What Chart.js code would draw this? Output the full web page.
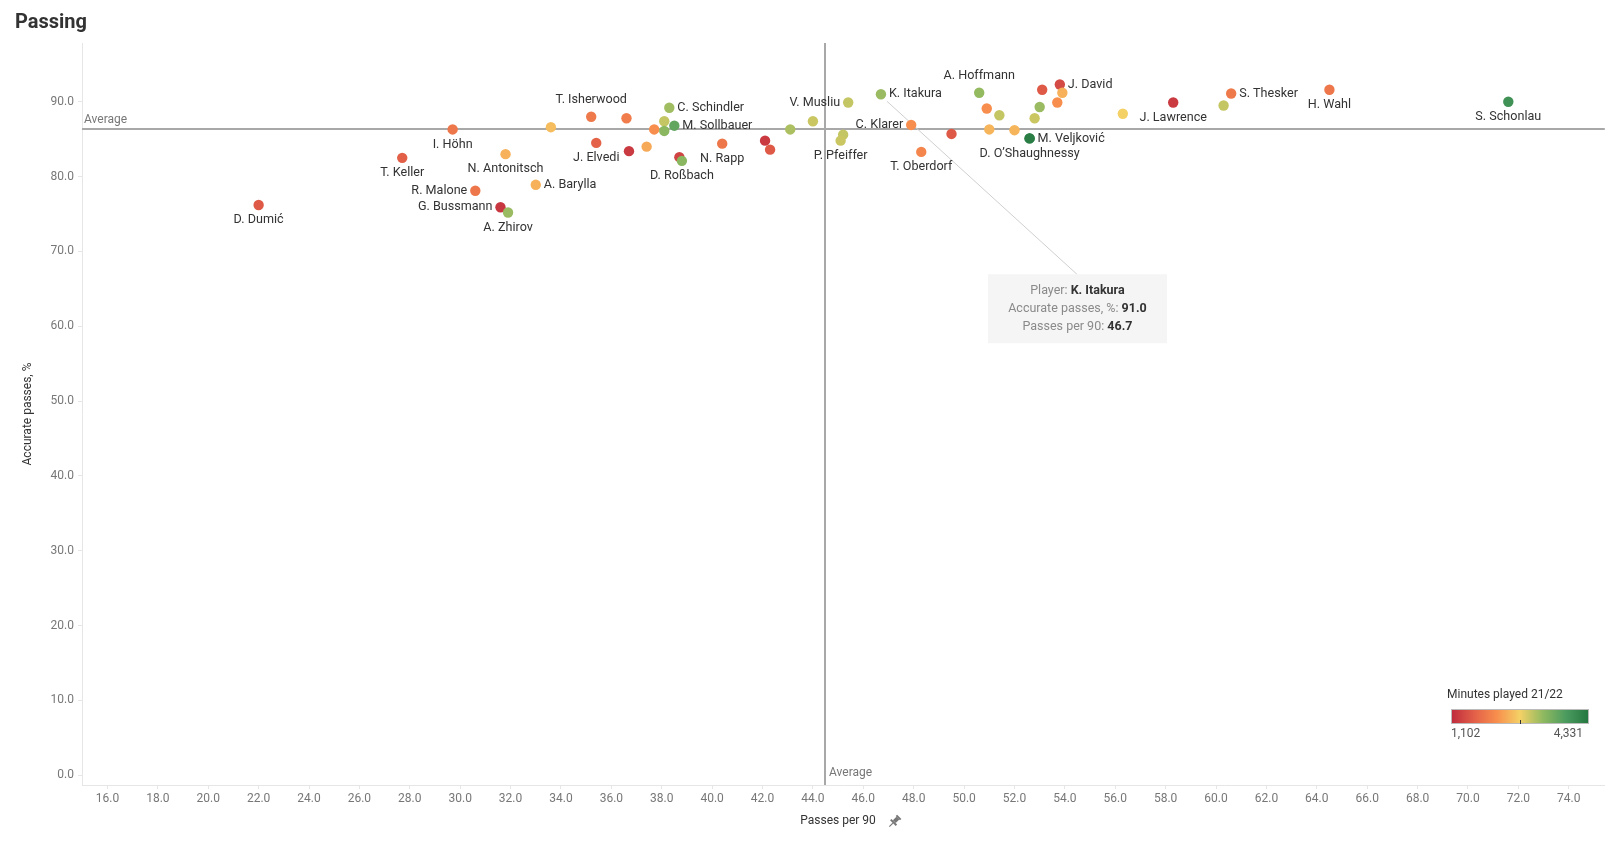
<!DOCTYPE html>
<html><head><meta charset="utf-8">
<script src="https://cdn.jsdelivr.net/npm/chart.js@4.4.1/dist/chart.umd.min.js"></script>
<style>html,body{margin:0;padding:0;background:#fff;} #wrap{width:1610px;height:849px;position:relative}</style>
</head><body><div id="wrap"><canvas id="c" width="1610" height="849"></canvas></div>
<script>
// ---------------- DATA ----------------
const players = [
  "D. Dumić","T. Keller","I. Höhn","N. Antonitsch","R. Malone","G. Bussmann","A. Zhirov","A. Barylla",
  "","T. Isherwood","","J. Elvedi","","","","","C. Schindler","","M. Sollbauer","","D. Roßbach","N. Rapp",
  "","","","","V. Musliu","","P. Pfeiffer","K. Itakura","C. Klarer","T. Oberdorf","","A. Hoffmann",
  "","","","","M. Veljković","D. O’Shaughnessy","","","","J. David","","","","J. Lawrence","","S. Thesker",
  "H. Wahl","S. Schonlau"
];
const passesPer90 = [
  22.0,27.7,29.7,31.8,30.6,31.6,31.9,33.0,
  33.6,35.2,36.6,35.4,36.7,37.4,37.7,38.1,38.3,38.1,38.5,38.7,38.8,40.4,
  42.1,42.3,43.1,44.0,45.4,45.2,45.1,46.7,47.9,48.3,49.5,50.6,
  50.9,51.4,51.0,52.0,52.6,52.6,52.8,53.0,53.1,53.8,53.9,53.7,56.3,58.3,60.3,60.6,
  64.5,71.6
];
const accuratePct = [
  76.2,82.5,86.3,83.0,78.1,75.9,75.2,78.9,
  86.6,88.0,87.8,84.5,83.4,84.0,86.3,87.4,89.2,86.1,86.8,82.6,82.1,84.4,
  84.8,83.6,86.3,87.4,89.9,85.6,84.8,91.0,86.9,83.3,85.7,91.2,
  89.1,88.2,86.3,86.2,85.1,85.1,87.8,89.3,91.6,92.3,91.2,89.9,88.4,89.9,89.5,91.1,
  91.6,90.0
];
const minutesPlayed = [
  1586,1651,1909,2458,1909,1231,3201,2458,
  2555,1942,1974,1683,1263,2394,2168,2975,3169,3298,3621,1360,3298,1909,
  1263,1586,3104,2943,2975,2975,2943,3201,2168,2071,1586,3233,
  2168,2975,2490,2490,4234,4234,2943,3201,1586,1425,2458,2168,2717,1263,2975,1942,
  1909,3944
];
const labelSide = [
  "b","b","b","b","l","l","b","r",
  "","a","","b","","","","","r","","r","","b","b",
  "","","","","l","","b","r","l","b","","a",
  "","","","","r","b","","","","r","","","","b","","r",
  "b","b"
];
const xTickValues = [16,18,20,22,24,26,28,30,32,34,36,38,40,42,44,46,48,50,52,54,56,58,60,62,64,66,68,70,72,74];
const yTickValues = [0,10,20,30,40,50,60,70,80,90];
const avgPasses = 44.47;
const avgAccuracy = 86.3;
const minutesRange = [1102, 4331];
const paletteStops = ["#be2a3e","#e25f48","#f88f4d","#f4d166","#90b960","#4b9b5f","#22763f"];
const highlighted = "K. Itakura";

// ---------------- HELPERS ----------------
function hex2rgb(h){return [parseInt(h.substr(1,2),16),parseInt(h.substr(3,2),16),parseInt(h.substr(5,2),16)];}
function colorFor(m){
  let t = (m - minutesRange[0]) / (minutesRange[1] - minutesRange[0]);
  t = Math.max(0, Math.min(1, t));
  const n = paletteStops.length - 1;
  const i = Math.min(n - 1, Math.floor(t * n));
  const f = t * n - i;
  const a = hex2rgb(paletteStops[i]), b = hex2rgb(paletteStops[i + 1]);
  const c = a.map((v, k) => Math.round(v + (b[k] - v) * f));
  return `rgb(${c[0]},${c[1]},${c[2]})`;
}
const points = passesPer90.map((x, i) => ({x: x, y: accuratePct[i]}));
const pointColors = minutesPlayed.map(colorFor);
const FONT = "Roboto, 'Open Sans', sans-serif";

const overlay = {
  id: 'overlay',
  beforeDatasetsDraw(chart){
    const ctx = chart.ctx, xs = chart.scales.x, ys = chart.scales.y, ca = chart.chartArea;
    ctx.save();
    ctx.strokeStyle = '#a8a8a8'; ctx.lineWidth = 2;
    const ay = Math.round(ys.getPixelForValue(avgAccuracy));
    const ax = Math.round(xs.getPixelForValue(avgPasses));
    ctx.beginPath(); ctx.moveTo(ca.left, ay); ctx.lineTo(ca.right, ay); ctx.stroke();
    ctx.beginPath(); ctx.moveTo(ax, ca.top); ctx.lineTo(ax, ca.bottom); ctx.stroke();
    ctx.fillStyle = '#777'; ctx.font = `12px ${FONT}`; ctx.textBaseline = 'middle'; ctx.textAlign = 'left';
    ctx.fillText('Average', ca.left + 2, ay - 9);
    ctx.fillText('Average', ax + 4, ca.bottom - 12);
    // tooltip leader line
    const idx = players.indexOf(highlighted);
    const px = xs.getPixelForValue(passesPer90[idx]), py = ys.getPixelForValue(accuratePct[idx]);
    ctx.strokeStyle = '#cfcfcf'; ctx.lineWidth = 1;
    ctx.beginPath(); ctx.moveTo(px + 6, py + 7); ctx.lineTo(px + 196, py + 180); ctx.stroke();
    ctx.restore();
  },
  afterDraw(chart){
    const ctx = chart.ctx, xs = chart.scales.x, ys = chart.scales.y, ca = chart.chartArea;
    ctx.save();
    // title
    ctx.fillStyle = '#333'; ctx.font = `bold 20px ${FONT}`; ctx.textBaseline = 'alphabetic'; ctx.textAlign = 'left';
    ctx.fillText('Passing', 15, 28);
    // point labels
    ctx.font = `12.6px ${FONT}`; ctx.fillStyle = '#333'; ctx.textBaseline = 'middle';
    players.forEach((name, i) => {
      if (!name) return;
      const px = xs.getPixelForValue(passesPer90[i]), py = ys.getPixelForValue(accuratePct[i]);
      const s = labelSide[i];
      if (s === 'b') { ctx.textAlign = 'center'; ctx.fillText(name, px, py + 15); }
      else if (s === 'a') { ctx.textAlign = 'center'; ctx.fillText(name, px, py - 17); }
      else if (s === 'r') { ctx.textAlign = 'left'; ctx.fillText(name, px + 8, py); }
      else if (s === 'l') { ctx.textAlign = 'right'; ctx.fillText(name, px - 8, py); }
    });
    // axis titles
    ctx.fillStyle = '#333'; ctx.font = `12px ${FONT}`; ctx.textAlign = 'center';
    ctx.fillText('Passes per 90', 838, 821);
    // pin icon
    ctx.save(); ctx.translate(895, 821); ctx.rotate(Math.PI / 4); ctx.fillStyle = '#777'; ctx.strokeStyle = '#777';
    ctx.fillRect(-3, -6, 6, 2); ctx.fillRect(-2, -4, 4, 5); ctx.fillRect(-4, 1, 8, 2);
    ctx.lineWidth = 1.2; ctx.beginPath(); ctx.moveTo(0, 3); ctx.lineTo(0, 8); ctx.stroke(); ctx.restore();
    ctx.save(); ctx.translate(28, (ca.top + ca.bottom) / 2); ctx.rotate(-Math.PI / 2);
    ctx.fillText('Accurate passes, %', 0, 0); ctx.restore();
    // tooltip
    const idx = players.indexOf(highlighted);
    const px = xs.getPixelForValue(passesPer90[idx]), py = ys.getPixelForValue(accuratePct[idx]);
    const bx = px + 107, by = py + 180, bw = 179, bh = 69;
    ctx.fillStyle = '#f5f5f5'; ctx.fillRect(bx, by, bw, bh);
    const rows = [['Player: ', players[idx]], ['Accurate passes, %: ', accuratePct[idx].toFixed(1)], ['Passes per 90: ', passesPer90[idx].toFixed(1)]];
    rows.forEach((r, k) => {
      const yy = by + 17 + k * 18;
      ctx.font = `12.5px ${FONT}`; const w1 = ctx.measureText(r[0]).width;
      ctx.font = `bold 12.5px ${FONT}`; const w2 = ctx.measureText(r[1]).width;
      const sx = bx + bw / 2 - (w1 + w2) / 2;
      ctx.textAlign = 'left';
      ctx.font = `12.5px ${FONT}`; ctx.fillStyle = '#8a8a8a'; ctx.fillText(r[0], sx, yy);
      ctx.font = `bold 12.5px ${FONT}`; ctx.fillStyle = '#333'; ctx.fillText(r[1], sx + w1, yy);
    });
    // legend
    ctx.textAlign = 'left'; ctx.fillStyle = '#333'; ctx.font = `12px ${FONT}`;
    ctx.fillText('Minutes played 21/22', 1447, 695);
    const lx = 1451, ly = 709, lw = 138, lh = 15;
    const g = ctx.createLinearGradient(lx, 0, lx + lw, 0);
    paletteStops.forEach((c, k) => g.addColorStop(k / (paletteStops.length - 1), c));
    ctx.fillStyle = g; ctx.fillRect(lx, ly, lw, lh);
    ctx.strokeStyle = '#bbb'; ctx.lineWidth = 1; ctx.strokeRect(lx + 0.5, ly + 0.5, lw - 1, lh - 1);
    ctx.strokeStyle = '#333'; ctx.beginPath(); ctx.moveTo(lx + lw / 2 + 0.5, ly + lh - 4); ctx.lineTo(lx + lw / 2 + 0.5, ly + lh); ctx.stroke();
    ctx.fillStyle = '#555'; ctx.font = `12px ${FONT}`;
    ctx.fillText(minutesRange[0].toLocaleString('en-US'), lx, 734);
    ctx.textAlign = 'right'; ctx.fillText(minutesRange[1].toLocaleString('en-US'), lx + lw - 6, 734);
    ctx.restore();
  }
};

new Chart(document.getElementById('c'), {
  type: 'scatter',
  data: { datasets: [{
    data: points,
    backgroundColor: pointColors,
    borderWidth: 0,
    pointRadius: 5.2,
    pointHoverRadius: 5.2
  }]},
  options: {
    responsive: false, devicePixelRatio: 1, animation: false,
    layout: { padding: { left: 0, right: 3, top: 43, bottom: 0 } },
    plugins: { legend: { display: false }, tooltip: { enabled: false } },
    events: [],
    scales: {
      x: {
        type: 'linear', min: 14.99, max: 75.43,
        afterBuildTicks: s => { s.ticks = xTickValues.map(v => ({ value: v })); },
        afterFit: s => { s.height = 64; },
        ticks: { callback: v => Number(v).toFixed(1), color: '#777', font: { family: FONT, size: 12 }, padding: 3, maxRotation: 0, autoSkip: false },
        grid: { display: true, drawOnChartArea: false, drawTicks: true, tickLength: 4, color: '#e6e6e6' },
        border: { display: true, color: '#e6e6e6' }
      },
      y: {
        type: 'linear', min: -1.3, max: 97.85,
        afterBuildTicks: s => { s.ticks = yTickValues.map(v => ({ value: v })); },
        afterFit: s => { s.width = 82; },
        ticks: { callback: v => Number(v).toFixed(1), color: '#777', font: { family: FONT, size: 12 }, padding: 4, autoSkip: false },
        grid: { display: true, drawOnChartArea: false, drawTicks: true, tickLength: 4, color: '#e6e6e6' },
        border: { display: true, color: '#e6e6e6' }
      }
    }
  },
  plugins: [overlay]
});
</script>
</body></html>
